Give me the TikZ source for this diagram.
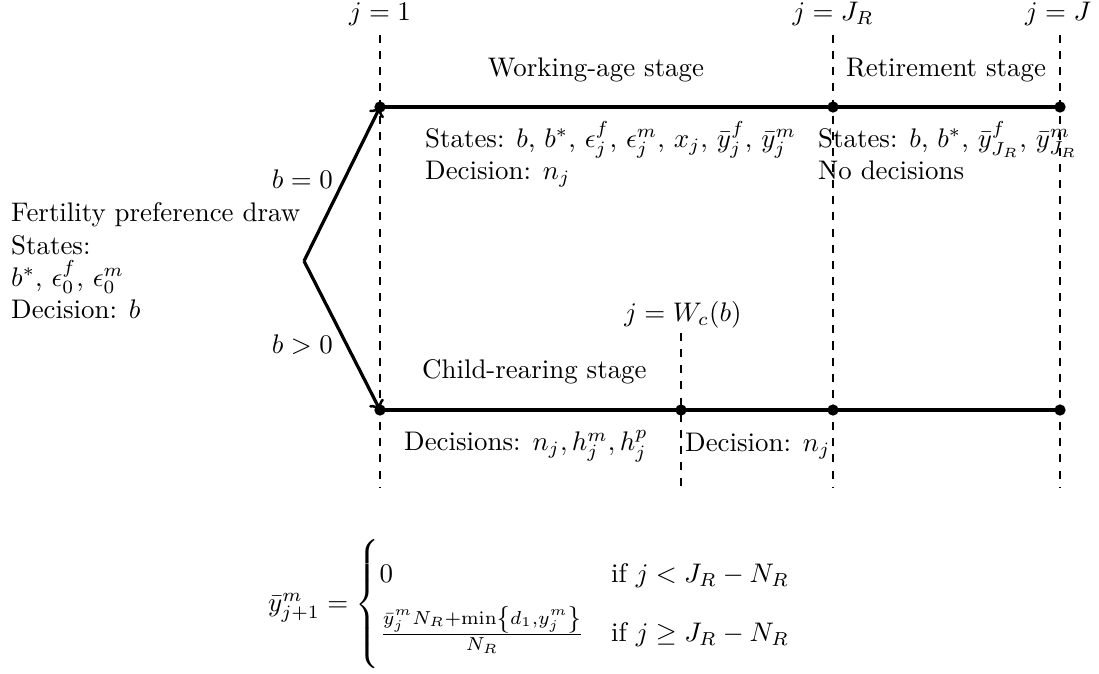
\documentclass[tikz,border=0pt]{standalone}
\usepackage{amsmath,amssymb}
\begin{document}
\begin{tikzpicture}[x=0.372pt,y=-0.372pt,
  guide/.style={dashed,thin},
  stageline/.style={very thick},
  branch/.style={very thick,->},
  dotpt/.style={circle,fill=black,inner sep=0pt,minimum size=4.2pt},
  lab/.style={inner sep=1pt}]
\useasboundingbox (0,0) rectangle (1099,673);
% guides
\coordinate (g1t) at (380,35); \coordinate (g1b) at (380,488);
\coordinate (g2t) at (833,35); \coordinate (g2b) at (833,488);
\coordinate (g3t) at (1060,35); \coordinate (g3b) at (1060,488);
\coordinate (gwt) at (681,333); \coordinate (gwb) at (681,488);
\draw[guide] (g1t) -- (g1b);
\draw[guide] (g2t) -- (g2b);
\draw[guide] (g3t) -- (g3b);
\draw[guide] (gwt) -- (gwb);
% dots
\node[dotpt] (t1) at (380,107) {};
\node[dotpt] (t2) at (833,107) {};
\node[dotpt] (t3) at (1060,107) {};
\node[dotpt] (b1) at (380,410) {};
\node[dotpt] (bw) at (681,410) {};
\node[dotpt] (b2) at (833,410) {};
\node[dotpt] (b3) at (1060,410) {};
\draw[stageline] (t1.center) -- (t2.center) -- (t3.center);
\draw[stageline] (b1.center) -- (bw.center) -- (b2.center) -- (b3.center);
\coordinate (br) at (304,261);
\draw[branch] (br) -- (t1.center);
\draw[branch] (br) -- (b1.center);
% labels
\node[lab] (l1) at (380,14) {$j=1$};
\node[lab] (l2) at (833,14) {$j=J_R$};
\node[lab] (l3) at (1058,14) {$j=J$};
\node[lab] (lw) at (683,315) {$j=W_c(b)$};
\node[lab] (wa) at (596,70) {Working-age stage};
\node[lab] (rs) at (946,70) {Retirement stage};
\node[lab,anchor=north west,align=left] (ws) at (422,118) {States: $b$, $b^*$, $\epsilon^f_j$, $\epsilon^m_j$, $x_j$, $\bar{y}^f_j$, $\bar{y}^m_j$\\Decision: $n_j$};
\node[lab,anchor=north west,align=left] (rss) at (815,118) {States: $b$, $b^*$, $\bar{y}^f_{J_R}$, $\bar{y}^m_{J_R}$\\No decisions};
\node[lab,anchor=west,align=left] (fp) at (8,261) {Fertility preference draw\\States:\\$b^*$, $\epsilon^f_0$, $\epsilon^m_0$\\Decision: $b$};
\node[lab,anchor=east] (b0) at (336,179) {$b=0$};
\node[lab,anchor=east] (bp) at (336,345) {$b>0$};
\node[lab,anchor=west] (cr) at (419,372) {Child-rearing stage};
\node[lab,anchor=west] (d1) at (401,446) {Decisions: $n_j, h^m_j, h^p_j$};
\node[lab,anchor=west] (d2) at (682,446) {Decision: $n_j$};
% equation
\node[lab,anchor=west] (eq) at (265,605) {$\bar{y}^m_{j+1}=\left\{\vrule height 24pt depth 22pt width 0pt\renewcommand{\arraystretch}{1.2}\begin{array}{@{}l@{\quad}l@{}}0 & \text{if } j<J_R-N_R\\[1ex] \frac{\bar{y}^m_j N_R+\min\left\{d_1,y^m_j\right\}}{N_R} & \text{if } j\geq J_R-N_R\end{array}\right.$};
\end{tikzpicture}
\end{document}
